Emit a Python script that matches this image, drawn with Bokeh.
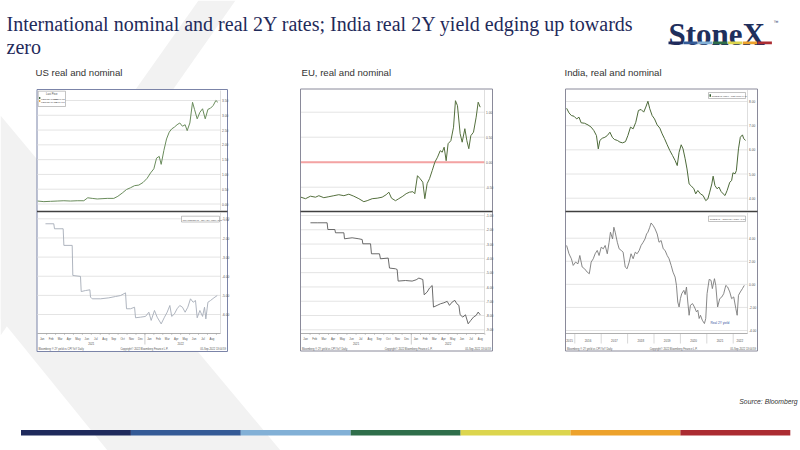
from bokeh.plotting import figure
from bokeh.models import Range1d
from bokeh.core.properties import value
from bokeh.embed import file_html
from bokeh.resources import INLINE

# ---------------- DATA ----------------
# US 2Y nominal yield (x: months since 1 Jan 2021)
us_nom_m = [0.0, 0.69, 1.43, 2.18, 2.93, 3.67, 4.42, 5.16, 5.6, 6.1, 6.66, 7.2, 7.78, 8.52, 8.97, 9.46, 9.94,
            10.39, 10.84, 11.32, 11.8, 12.25, 12.63, 13.0, 13.3, 13.6, 13.82, 14.12, 14.42, 14.72, 15.0, 15.3,
            15.6, 15.9, 16.2, 16.5, 16.73, 17.03, 17.33, 17.55, 17.85, 18.15, 18.45, 18.75, 19.05, 19.34, 19.64,
            19.94, 20.16]
us_nom = [0.10, 0.08, 0.09, 0.10, 0.11, 0.10, 0.11, 0.11, 0.21, 0.19, 0.17, 0.18, 0.19, 0.19, 0.26, 0.37, 0.49,
          0.55, 0.62, 0.64, 0.73, 0.87, 1.05, 1.19, 1.55, 1.61, 1.34, 1.81, 2.20, 2.43, 2.54, 2.60, 2.68, 2.74,
          2.63, 2.68, 2.48, 2.74, 3.44, 3.20, 2.88, 3.10, 3.22, 2.88, 3.20, 3.24, 3.33, 3.50, 3.44]
# US 2Y real yield
us_real_m = [0.87, 1.8, 1.88, 2.85, 2.93, 3.86, 3.93, 4.79, 4.87, 5.34, 5.84, 5.91, 6.1, 7.03, 7.96, 8.71, 9.27,
             9.83, 9.94, 10.39, 10.84, 10.95, 11.5, 12.07, 12.44, 12.7, 13.07, 13.37, 13.82, 14.19, 14.49, 14.79,
             15.0, 15.3, 15.6, 15.9, 16.2, 16.5, 16.8, 17.1, 17.4, 17.66, 17.85, 18.15, 18.45, 18.67, 18.82, 19.05,
             19.34, 19.72, 20.09]
us_real = [-1.26, -1.26, -1.52, -1.52, -2.39, -2.39, -3.96, -4.01, -4.80, -4.75, -4.71, -5.09, -5.18, -5.18, -5.13,
           -5.06, -5.01, -4.87, -5.70, -5.70, -5.62, -6.17, -6.14, -6.10, -5.88, -6.31, -5.79, -6.14, -6.49, -6.14,
           -5.88, -5.53, -6.10, -5.97, -5.70, -5.53, -5.62, -5.88, -5.62, -5.18, -5.36, -5.27, -6.17, -5.79, -6.10,
           -5.62, -6.23, -5.36, -5.27, -5.13, -5.01]
# EU 2Y nominal yield
eu_nom_m = [0.0, 0.5, 1.04, 1.59, 1.95, 2.49, 3.04, 3.58, 4.12, 4.67, 5.21, 5.75, 6.3, 6.84, 7.2, 7.75, 8.29, 8.83,
            9.27, 9.56, 9.85, 10.28, 10.64, 11.08, 11.44, 11.8, 12.17, 12.38, 12.67, 12.96, 13.25, 13.47, 13.72,
            13.98, 14.27, 14.56, 14.85, 15.14, 15.36, 15.57, 15.79, 16.0, 16.3, 16.59, 16.8, 17.02, 17.31, 17.53,
            17.82, 18.04, 18.25, 18.47, 18.76, 19.05, 19.27, 19.49]
eu_nom = [-0.70, -0.73, -0.68, -0.70, -0.67, -0.71, -0.69, -0.67, -0.65, -0.67, -0.64, -0.68, -0.73, -0.79, -0.77,
          -0.73, -0.72, -0.70, -0.65, -0.60, -0.72, -0.77, -0.73, -0.68, -0.63, -0.60, -0.59, -0.63, -0.27, -0.33,
          -0.40, -0.73, -0.43, -0.33, -0.17, 0.00, 0.10, 0.23, 0.20, 0.30, 0.03, 0.37, 0.43, 0.70, 1.23, 1.13, 0.57,
          0.40, 0.67, 0.43, 0.27, 0.53, 0.60, 0.90, 1.20, 1.10]
# EU 2Y real yield
eu_real_m = [1.04, 1.77, 2.85, 2.93, 3.69, 3.76, 4.67, 4.74, 5.57, 6.3, 6.66, 6.73, 7.57, 7.67, 8.54, 8.65, 9.49,
             9.63, 10.28, 10.46, 10.57, 11.37, 12.09, 12.53, 12.82, 13.25, 13.4, 13.72, 13.98, 14.27, 14.41, 14.81,
             15.17, 15.54, 15.9, 16.15, 16.44, 16.73, 16.95, 17.17, 17.31, 17.6, 17.89, 18.18, 18.47, 18.76, 19.05,
             19.27, 19.49]
eu_real = [-1.51, -1.51, -1.51, -1.98, -1.98, -2.21, -2.21, -2.63, -2.56, -2.63, -2.68, -2.98, -2.98, -3.68, -3.68,
           -4.03, -3.98, -4.68, -4.73, -4.78, -5.59, -5.55, -5.59, -5.50, -5.38, -5.48, -6.55, -6.36, -6.08, -5.90,
           -7.41, -7.29, -7.18, -7.11, -7.01, -7.29, -7.06, -6.94, -7.18, -7.29, -7.95, -8.11, -7.95, -8.58, -8.34,
           -8.11, -7.99, -7.76, -7.95]
# India 2Y nominal yield (x: decimal years)
in_nom_yr = [2015.69, 2015.78, 2015.87, 2015.97, 2016.07, 2016.16, 2016.24, 2016.37, 2016.50, 2016.62, 2016.72,
             2016.82, 2016.89, 2016.95, 2017.04, 2017.14, 2017.23, 2017.33, 2017.42, 2017.50, 2017.61, 2017.71,
             2017.81, 2017.92, 2018.01, 2018.11, 2018.21, 2018.31, 2018.41, 2018.51, 2018.61, 2018.69, 2018.77,
             2018.84, 2018.93, 2019.02, 2019.12, 2019.22, 2019.31, 2019.40, 2019.50, 2019.60, 2019.70, 2019.80,
             2019.88, 2019.95, 2020.03, 2020.10, 2020.18, 2020.25, 2020.33, 2020.40, 2020.51, 2020.58, 2020.66,
             2020.76, 2020.86, 2020.96, 2021.04, 2021.11, 2021.19, 2021.24, 2021.31, 2021.39, 2021.46, 2021.54,
             2021.62, 2021.69, 2021.77, 2021.87, 2021.94, 2021.99, 2022.07, 2022.12, 2022.20, 2022.27, 2022.35,
             2022.40, 2022.47]
in_nom = [7.72, 7.53, 7.42, 7.39, 7.28, 7.35, 7.12, 7.10, 7.03, 6.94, 6.80, 6.59, 6.04, 6.39, 6.48, 6.52, 6.59,
          6.73, 6.52, 6.43, 6.39, 6.32, 6.29, 6.34, 6.59, 6.94, 6.87, 7.14, 7.63, 7.67, 7.56, 7.77, 8.01, 7.70,
          7.42, 7.28, 7.03, 6.90, 6.66, 6.46, 6.21, 5.97, 5.77, 5.56, 5.35, 5.90, 6.21, 6.04, 5.63, 5.21, 4.59,
          4.52, 4.39, 4.18, 4.32, 4.18, 4.11, 3.90, 3.97, 4.25, 4.59, 4.91, 4.52, 4.39, 4.46, 4.28, 4.18, 4.11,
          4.32, 4.66, 4.73, 5.05, 5.01, 5.14, 6.04, 6.52, 6.62, 6.46, 6.39]
# India 2Y real yield
in_real_yr = [2015.69, 2015.78, 2015.87, 2015.94, 2016.03, 2016.12, 2016.19, 2016.28, 2016.37, 2016.47, 2016.55,
              2016.62, 2016.70, 2016.77, 2016.85, 2016.92, 2017.00, 2017.08, 2017.15, 2017.23, 2017.30, 2017.35,
              2017.43, 2017.48, 2017.53, 2017.61, 2017.68, 2017.76, 2017.83, 2017.91, 2017.98, 2018.06, 2018.13,
              2018.21, 2018.29, 2018.36, 2018.44, 2018.51, 2018.59, 2018.66, 2018.72, 2018.77, 2018.84, 2018.89,
              2018.97, 2019.04, 2019.12, 2019.19, 2019.27, 2019.35, 2019.42, 2019.50, 2019.57, 2019.65, 2019.72,
              2019.80, 2019.85, 2019.90, 2019.95, 2020.00, 2020.05, 2020.13, 2020.18, 2020.23, 2020.28, 2020.33,
              2020.38, 2020.46, 2020.53, 2020.61, 2020.66, 2020.71, 2020.76, 2020.83, 2020.91, 2020.96, 2021.01,
              2021.09, 2021.16, 2021.21, 2021.29, 2021.34, 2021.41, 2021.49, 2021.57, 2021.64, 2021.72, 2021.79,
              2021.87, 2021.94, 2022.02, 2022.10, 2022.15, 2022.20, 2022.27, 2022.35, 2022.42]
in_real = [3.37, 2.65, 2.22, 1.64, 1.93, 1.78, 2.50, 1.50, 1.35, 1.06, 0.92, 1.93, 2.22, 2.65, 2.94, 2.50, 3.22,
           3.08, 3.37, 2.65, 3.65, 4.52, 3.94, 4.95, 4.52, 3.65, 3.08, 2.94, 2.79, 1.50, 1.35, 1.93, 2.65, 2.22,
           2.79, 2.65, 2.94, 3.37, 3.65, 3.94, 4.37, 4.52, 4.95, 5.32, 5.09, 4.81, 4.37, 3.65, 3.80, 3.08, 2.94,
           2.50, 2.22, 1.64, 1.06, 0.63, -0.09, -1.53, -1.96, -1.24, -0.81, -0.52, -0.89, -0.23, -1.53, -2.68,
           -1.81, -1.67, -1.96, -2.39, -2.24, -2.96, -2.68, -3.11, -3.40, -2.96, -0.81, 0.43, 0.35, -0.37, 0.49,
           -0.09, -1.96, -1.24, -1.09, -0.81, -0.09, -0.23, -0.66, -1.24, -1.09, -2.10, -2.68, -0.95, -0.66, -0.37,
           -0.09]

# tick values / labels
us_top_ticks = [0.0, 0.5, 1.0, 1.5, 2.0, 2.5, 3.0, 3.5]
us_bot_ticks = [-1, -2, -3, -4, -5, -6]
eu_top_ticks = [-0.5, 0.0, 0.5, 1.0]
eu_bot_ticks = [-1, -2, -3, -4, -5, -6, -7, -8, -9]
in_top_ticks = [4, 5, 6, 7, 8]
in_bot_ticks = [-4, -2, 0, 2, 4]
month_labels = ["Jan", "Feb", "Mar", "Apr", "May", "Jun", "Jul", "Aug", "Sep", "Oct", "Nov", "Dec",
                "Jan", "Feb", "Mar", "Apr", "May", "Jun", "Jul", "Aug"]
year_labels_us = ["2021", "2022"]
year_pos_us = [6.0, 16.0]
in_year_labels = ["2015", "2016", "2017", "2018", "2019", "2020", "2021", "2022"]
in_year_pos = [2015.8, 2016.5, 2017.5, 2018.5, 2019.5, 2020.5, 2021.5, 2022.25]
in_year_starts = [2016, 2017, 2018, 2019, 2020, 2021, 2022]
strip_colors = ["#1f2a5c", "#345a96", "#82b0d6", "#2f6e4a", "#dcd54e", "#eda22c", "#ab2c32"]

TITLE1 = "International nominal and real 2Y rates; India real 2Y yield edging up towards"
TITLE2 = "zero"

# ---------------- FIGURE ----------------
FX0, FY0, FW, FH = 0, 0, 800, 450
p = figure(width=FW, height=FH, x_range=Range1d(FX0, FX0 + FW), y_range=Range1d(FY0 + FH, FY0),
           output_backend="svg", toolbar_location=None, min_border=0,
           x_axis_type=None, y_axis_type=None)
p.outline_line_color = None
p.background_fill_color = "white"
p.border_fill_color = "white"


def x_range_for(pa, va, pb, vb):
    s = (pb - pa) / (vb - va)
    start = va - (pa - FX0) / s
    return Range1d(start=start, end=start + FW / s)


def y_range_for(pa, va, pb, vb):
    s = (pa - pb) / (vb - va)
    start = va - (FY0 + FH - pa) / s
    return Range1d(start=start, end=start + FH / s)


p.extra_x_ranges = {
    "us_x": x_range_for(37.2, 0, 215.9, 20),
    "eu_x": x_range_for(300.4, 0, 484.4, 20),
    "in_x": x_range_for(600.7, 2017, 627.1, 2018),
}
p.extra_y_ranges = {
    "us_top": y_range_for(203.5, 0.0, 100.0, 3.5),
    "us_bot": y_range_for(218.3, -1, 314.0, -6),
    "eu_top": y_range_for(161.7, 0.0, 111.7, 1.0),
    "eu_bot": y_range_for(215.0, -1, 329.3, -9),
    "in_top": y_range_for(197.7, 4.0, 101.0, 8.0),
    "in_bot": y_range_for(330.0, -4, 237.7, 4),
}


def txt(xs, ys, texts, size, color="#333333", font="Liberation Sans", align="left", baseline="alphabetic",
        style="normal", **kw):
    p.text(x=xs, y=ys, text=texts, text_font=value(font), text_font_size=size, text_color=color,
           text_align=align, text_baseline=baseline, text_font_style=style, **kw)


# watermark bands
p.patches(xs=[[198, 235, 0, 0], [0, 280, 107, 0]], ys=[[0, 0, 335, 280], [115, 450, 450, 318]],
          fill_color="#f2f2f2", line_color=None)

# title
txt([6], [23.5], [TITLE1], "20px", color="#1f2a5a", font="Liberation Serif")
txt([6], [46], [TITLE2], "20px", color="#1f2a5a", font="Liberation Serif")

# logo
txt([668], [33.5], ["StoneX"], "31px", color="#1f2f5c", font="Liberation Serif", style="bold")
txt([773], [21], ["\u2122"], "5px", color="#1f2f5c")
for i, c in enumerate(strip_colors):
    p.quad(left=668 + i * 14.85, right=668 + i * 14.85 + 14.3, top=41, bottom=43.8, fill_color=c, line_color=None)

# subtitles
txt([35, 301, 564], [72, 72, 72], ["US real and nominal", "EU, real and nominal", "India, real and nominal"],
    "9.6px", color="#333333")

# source + bottom strip
txt([797], [401], ["Source: Bloomberg"], "6.8px", color="#333333", align="right", style="italic")
for i, c in enumerate(strip_colors):
    p.quad(left=20.5 + i * 109.9, right=20.5 + (i + 1) * 109.9, top=429.5, bottom=435, fill_color=c,
           line_color=None)

# ---------------- CHART PANELS ----------------
panels = {
    "us": dict(box=(36.5, 227, 89, 351), plot=(37, 220), border="#7b84a8"),
    "eu": dict(box=(300, 492, 88.5, 350.5), plot=(300.5, 484), border="#8a8a9a"),
    "in": dict(box=(565, 757, 88.5, 350.5), plot=(565.5, 747), border="#8a8a9a"),
}
SEP_Y, AX_Y = 211, 333

for key, pn in panels.items():
    l, r, t, b = pn["box"]
    p.quad(left=l, right=r, top=t, bottom=b, fill_color="white", line_color=pn["border"], line_width=1)

grid_specs = [
    ("us", "us_top", us_top_ticks, ["%.2f" % v for v in us_top_ticks]),
    ("us", "us_bot", us_bot_ticks, ["%.2f" % v for v in us_bot_ticks]),
    ("eu", "eu_top", eu_top_ticks, ["%.2f" % v for v in eu_top_ticks]),
    ("eu", "eu_bot", eu_bot_ticks, ["%.2f" % v for v in eu_bot_ticks]),
    ("in", "in_top", in_top_ticks, ["%.2f" % v for v in in_top_ticks]),
    ("in", "in_bot", in_bot_ticks, ["%.2f" % v for v in in_bot_ticks]),
]
for key, yname, ticks, labels in grid_specs:
    pl, pr = panels[key]["plot"]
    n = len(ticks)
    p.segment(x0=[pl] * n, x1=[pr] * n, y0=ticks, y1=ticks, y_range_name=yname, line_color="#e4e4e4",
              line_width=1)
    txt([pr + 1.5] * n, ticks, labels, "3.2px", color="#555555", baseline="middle", y_range_name=yname)

# EU zero line (red)
p.segment(x0=[panels["eu"]["plot"][0]], x1=[panels["eu"]["plot"][1]], y0=[0.0], y1=[0.0], y_range_name="eu_top",
          line_color="#f4a3a3", line_width=2)

# series
p.line(us_nom_m, us_nom, x_range_name="us_x", y_range_name="us_top", line_color="#6a8c5c", line_width=1)
p.line(us_real_m, us_real, x_range_name="us_x", y_range_name="us_bot", line_color="#a6adb8", line_width=0.9)
p.line(eu_nom_m, eu_nom, x_range_name="eu_x", y_range_name="eu_top", line_color="#55703e", line_width=1)
p.line(eu_real_m, eu_real, x_range_name="eu_x", y_range_name="eu_bot", line_color="#5a5a5a", line_width=0.9)
p.line(in_nom_yr, in_nom, x_range_name="in_x", y_range_name="in_top", line_color="#4d6a3a", line_width=1)
p.line(in_real_yr, in_real, x_range_name="in_x", y_range_name="in_bot", line_color="#7a7a7a", line_width=0.9)

# panel separators, right axes and bottom axes
for key, pn in panels.items():
    l, r, t, b = pn["box"]
    pl, pr = pn["plot"]
    p.segment(x0=[l], x1=[r], y0=[SEP_Y], y1=[SEP_Y], line_color="#404040", line_width=1.6)
    p.segment(x0=[pr, pr], x1=[pr, pr], y0=[t + 1, SEP_Y + 1], y1=[SEP_Y - 1, AX_Y], line_color="#c8c8c8",
              line_width=0.6)
    p.segment(x0=[pl], x1=[pr], y0=[AX_Y], y1=[AX_Y], line_color="#9a9a9a", line_width=0.8)
    txt([l + 1.5], [348.5], ["Bloomberg \u00ae 2Y yield vs CPI YoY  Daily"], "2.6px", color="#555555")
    txt([(l + r) / 2 + 12], [348.5], ["Copyright\u00a9 2022 Bloomberg Finance L.P."], "2.6px", color="#555555",
        align="center")
    txt([r - 1.5], [348.5], ["05-Sep-2022 13:04:59"], "2.6px", color="#555555", align="right")

# month axes (US, EU)
for xname in ["us_x", "eu_x"]:
    n = len(month_labels)
    mids = [i + 0.5 for i in range(n)]
    starts = [i for i in range(1, n + 1)]
    p.segment(x0=starts, x1=starts, y0=[AX_Y] * n, y1=[AX_Y + 1.5] * n, x_range_name=xname, line_color="#9a9a9a",
              line_width=0.5)
    txt(mids, [337.8] * n, month_labels, "2.8px", color="#555555", align="center", x_range_name=xname)
    txt(year_pos_us, [342.5, 342.5], year_labels_us, "2.8px", color="#555555", align="center", x_range_name=xname)
    p.segment(x0=[12], x1=[12], y0=[AX_Y], y1=[344], x_range_name=xname, line_color="#9a9a9a", line_width=0.5)

# India year axis
p.segment(x0=in_year_starts, x1=in_year_starts, y0=[AX_Y] * len(in_year_starts), y1=[343] * len(in_year_starts),
          x_range_name="in_x", line_color="#b0b0b0", line_width=0.5)
txt(in_year_pos, [340] * len(in_year_pos), in_year_labels, "3px", color="#555555", align="center",
    x_range_name="in_x")


# legends
def legend_box(l, r, t, b):
    p.quad(left=l, right=r, top=t, bottom=b, fill_color="white", line_color="#9a9a9a", line_width=0.6)


legend_box(37.7, 65, 90.7, 106)
txt([51.3], [94], ["Last Price"], "2.6px", color="#444444", align="center")
p.quad(left=38.6, right=39.8, top=96.6, bottom=98.6, fill_color="#2d5a2d", line_color=None)
p.quad(left=38.6, right=39.8, top=99.6, bottom=101.6, fill_color="#e8a030", line_color=None)
txt([40.5, 40.5], [98.4, 101.4], ["USGG2YR Index", "USGG2YR-CPI"], "2.4px", color="#444444")
txt([64, 64], [98.4, 101.4], ["3.50 +0.02", "-5.01 n/a"], "2.4px", color="#444444", align="right")

legend_box(181, 219, 215.7, 221.5)
txt([182], [219.4], ["(R1) USGG2YR - CPI YOY Index  -5.01  +0.03"], "2.3px", color="#444444")

legend_box(708, 745, 92, 98)
p.quad(left=709, right=710.5, top=93.8, bottom=96.2, fill_color="#2d5a2d", line_color=None)
txt([711.2], [95.9], ["GIND2YR Index - Last Price  6.46"], "2.4px", color="#444444")

legend_box(708, 745, 215.5, 221)
txt([709.2], [219.2], ["GIND2YR - INCPIINY Index  -0.09"], "2.4px", color="#444444")

txt([710], [322], ["Real 2Y yield"], "3.2px", color="#3350a0")

open("out.html", "w").write(file_html(p, INLINE))
